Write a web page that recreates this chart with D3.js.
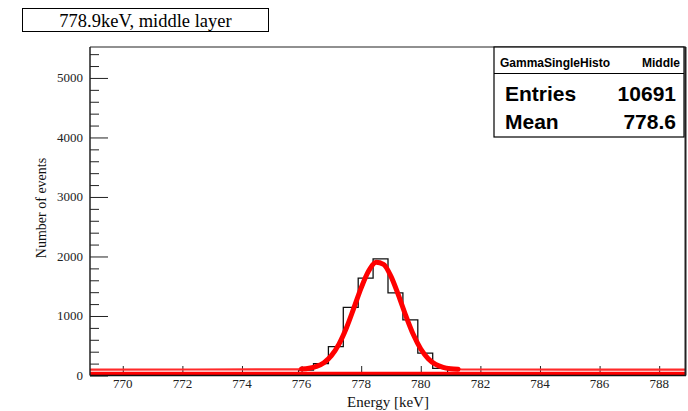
<!DOCTYPE html>
<html>
<head>
<meta charset="utf-8">
<script src="https://cdn.jsdelivr.net/npm/d3@7"></script>
<style>
  body { margin: 0; background: #fff; }
  svg { display: block; }
  .tick-label { font-family: "Liberation Serif", "DejaVu Serif", serif; font-size: 13px; fill: #222; }
  .axis-title { font-family: "Liberation Serif", "DejaVu Serif", serif; font-size: 15px; fill: #111; }
  .stats { font-family: "Liberation Sans", Arial, sans-serif; fill: #000; }
</style>
</head>
<body>
<svg width="688" height="411"></svg>
<script>
// histogram bins (0.5 keV wide)
const binLow = [775.9, 776.4, 776.9, 777.4, 777.9, 778.4, 778.9, 779.4, 779.9, 780.4];
const binCounts = [90, 200, 485, 1145, 1635, 1960, 1390, 935, 375, 120];
const binWidth = 0.5;

// fitted curve
const fitEnergy = [768.9, 775.75, 776, 776.25, 776.5, 776.75, 777, 777.25, 777.5, 777.75, 778,
  778.25, 778.5, 778.75, 779, 779.25, 779.5, 779.75, 780, 780.25, 780.5, 780.75, 781, 781.25, 781.5, 788.9];
const fitCounts = [100, 103, 108, 121, 152, 215, 333, 523, 794, 1128, 1473,
  1755, 1901, 1867, 1666, 1351, 1003, 688, 445, 283, 187, 138, 115, 105, 101, 100];

const energyTicks = [770, 772, 774, 776, 778, 780, 782, 784, 786, 788];
const countTicks = [0, 1000, 2000, 3000, 4000, 5000];
const countMinor = [200, 400, 600, 800, 1200, 1400, 1600, 1800, 2200, 2400, 2600, 2800,
  3200, 3400, 3600, 3800, 4200, 4400, 4600, 4800, 5200, 5400];

const title = "778.9keV, middle layer";
const statsName = ["GammaSingleHisto", "Middle"];
const statsRows = [["Entries", "10691"], ["Mean", "778.6"]];

const svg = d3.select("svg");
const pLeft = 90, pRight = 686, pTop = 47, pBottom = 375.5;

const x = d3.scaleLinear().domain([768.9, 788.9]).range([pLeft, pRight]);
const y = d3.scaleLinear().domain([0, 5520]).range([pBottom, pTop]);

svg.append("clipPath").attr("id", "plot")
  .append("rect").attr("x", pLeft).attr("y", pTop)
  .attr("width", pRight - pLeft).attr("height", pBottom - pTop);

// y axis ticks
const yAxisG = svg.append("g").attr("transform", `translate(${pLeft},0)`)
  .call(d3.axisRight(y).tickValues(countTicks).tickSize(18).tickFormat(""));
yAxisG.select(".domain").remove();
yAxisG.selectAll("line").attr("stroke", "#222");
const yMinorG = svg.append("g").attr("transform", `translate(${pLeft},0)`)
  .call(d3.axisRight(y).tickValues(countMinor).tickSize(9).tickFormat(""));
yMinorG.select(".domain").remove();
yMinorG.selectAll("line").attr("stroke", "#222");

svg.append("g").selectAll("text").data(countTicks).join("text")
  .attr("class", "tick-label")
  .attr("x", pLeft - 7).attr("y", (d) => y(d) + 4.5)
  .attr("text-anchor", "end")
  .text((d) => d);

// x axis ticks
const xAxisG = svg.append("g").attr("transform", `translate(0,${pBottom})`)
  .call(d3.axisTop(x).tickValues(energyTicks).tickSize(9.5).tickFormat(""));
xAxisG.select(".domain").remove();
xAxisG.selectAll("line").attr("stroke", "#222");

svg.append("g").selectAll("text").data(energyTicks).join("text")
  .attr("class", "tick-label")
  .attr("x", (d) => x(d)).attr("y", pBottom + 12)
  .attr("text-anchor", "middle")
  .text((d) => d);

// histogram
const plot = svg.append("g").attr("clip-path", "url(#plot)");
const steps = [[binLow[0], 0]];
binLow.forEach((b, i) => {
  steps.push([b, binCounts[i]]);
  steps.push([b + binWidth, binCounts[i]]);
});
steps.push([binLow[binLow.length - 1] + binWidth, 0]);
plot.append("path")
  .attr("d", d3.line().x((d) => x(d[0])).y((d) => y(d[1]))(steps))
  .attr("fill", "none").attr("stroke", "#111").attr("stroke-width", 1.3);

// fit
const fit = fitEnergy.map((e, i) => [e, fitCounts[i]]);
const fitLine = d3.line().x((d) => x(d[0])).y((d) => y(d[1])).curve(d3.curveMonotoneX);
plot.append("line")
  .attr("x1", x(768.9)).attr("x2", x(788.9)).attr("y1", y(0)).attr("y2", y(0))
  .attr("stroke", "#ff0000").attr("stroke-width", 7.5);
plot.append("path").attr("d", fitLine(fit))
  .attr("fill", "none").attr("stroke", "#ff2a2a").attr("stroke-width", 2.2);
plot.append("path").attr("d", fitLine(fit.filter((d) => d[0] >= 775.9 && d[0] <= 781.3)))
  .attr("fill", "none").attr("stroke", "#ff0000").attr("stroke-width", 5)
  .attr("stroke-linecap", "round");

// frame
svg.append("line").attr("x1", pLeft).attr("x2", pRight).attr("y1", pTop).attr("y2", pTop)
  .attr("stroke", "#222").attr("stroke-width", 1.2);
svg.append("line").attr("x1", pLeft).attr("x2", pRight).attr("y1", pBottom).attr("y2", pBottom)
  .attr("stroke", "#111").attr("stroke-width", 1.6);
svg.append("line").attr("x1", pLeft).attr("x2", pLeft).attr("y1", pTop).attr("y2", pBottom)
  .attr("stroke", "#222").attr("stroke-width", 1.5);
svg.append("line").attr("x1", pRight - 0.5).attr("x2", pRight - 0.5).attr("y1", pTop).attr("y2", pBottom)
  .attr("stroke", "#222").attr("stroke-width", 2);

// axis titles
svg.append("text").attr("class", "axis-title")
  .attr("x", (pLeft + pRight) / 2).attr("y", 407)
  .attr("text-anchor", "middle").text("Energy [keV]");
svg.append("text").attr("class", "axis-title")
  .attr("transform", "translate(46,208) rotate(-90)")
  .attr("text-anchor", "middle").style("font-size", "14px").text("Number of events");

// title box
svg.append("rect").attr("x", 22.5).attr("y", 8.5).attr("width", 246).attr("height", 23)
  .attr("fill", "#fff").attr("stroke", "#000").attr("stroke-width", 1);
svg.append("text").attr("x", 145.5).attr("y", 26.5)
  .attr("text-anchor", "middle")
  .style("font-family", "'Liberation Serif', serif").style("font-size", "18.5px")
  .text(title);

// stats box
const sb = { x: 494, y: 47, w: 190, h: 90 };
svg.append("rect").attr("x", sb.x).attr("y", sb.y).attr("width", sb.w).attr("height", sb.h)
  .attr("fill", "#fff").attr("stroke", "#000").attr("stroke-width", 1.2);
svg.append("line").attr("x1", sb.x).attr("x2", sb.x + sb.w).attr("y1", 73.5).attr("y2", 73.5)
  .attr("stroke", "#000").attr("stroke-width", 1);
svg.append("text").attr("class", "stats").attr("x", 500).attr("y", 67)
  .style("font-size", "12px").style("font-weight", "bold").text(statsName[0]);
svg.append("text").attr("class", "stats").attr("x", 680).attr("y", 67)
  .attr("text-anchor", "end").style("font-size", "12px").style("font-weight", "bold").text(statsName[1]);
statsRows.forEach((r, i) => {
  const by = 100.5 + i * 28.5;
  svg.append("text").attr("class", "stats").attr("x", 505).attr("y", by)
    .style("font-size", "21px").style("font-weight", "bold").text(r[0]);
  svg.append("text").attr("class", "stats").attr("x", 676).attr("y", by)
    .attr("text-anchor", "end").style("font-size", "21px").style("font-weight", "bold").text(r[1]);
});
</script>
</body>
</html>
